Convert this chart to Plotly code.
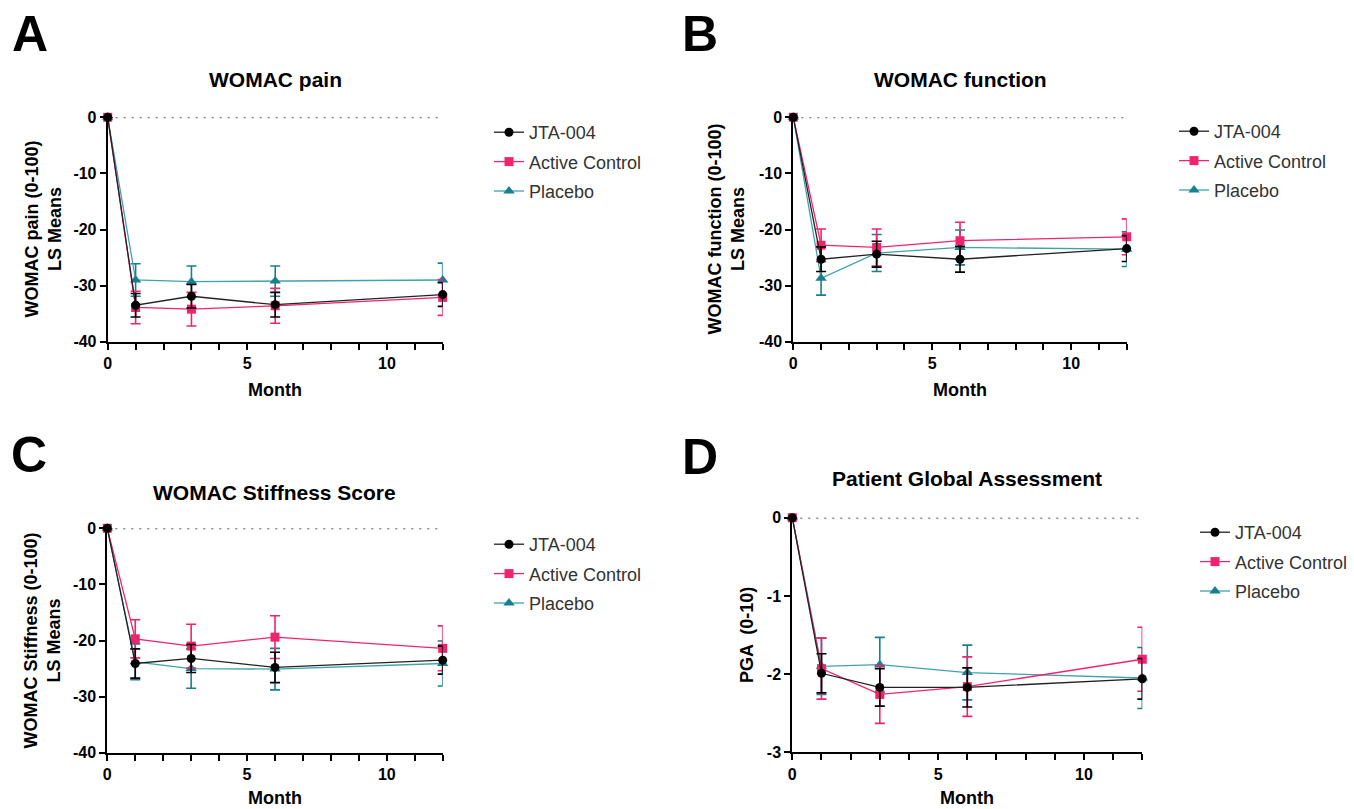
import plotly.graph_objects as go

W, H = 1354, 809
OFF = 0  # body margin removed via post_script

months = [0, 1, 3, 6, 12]
series_names = ["JTA-004", "Active Control", "Placebo"]

# Panel A: WOMAC pain
a_jta = [0, -33.5, -31.9, -33.4, -31.6]
a_jta_err = [0, 2.1, 2.1, 2.2, 2.1]
a_act = [0, -33.9, -34.2, -33.6, -32.1]
a_act_err = [0, 2.9, 3.0, 3.1, 3.2]
a_pla = [0, -29.0, -29.3, -29.2, -29.0]
a_pla_err = [0, 2.9, 2.8, 2.7, 3.0]

# Panel B: WOMAC function
b_jta = [0, -25.3, -24.4, -25.3, -23.4]
b_jta_err = [0, 2.2, 2.3, 2.3, 2.3]
b_act = [0, -22.8, -23.2, -22.0, -21.3]
b_act_err = [0, 2.9, 3.3, 3.3, 3.2]
b_pla = [0, -28.7, -24.2, -23.2, -23.5]
b_pla_err = [0, 3.0, 3.3, 3.1, 3.1]

# Panel C: WOMAC Stiffness
c_jta = [0, -24.1, -23.2, -24.8, -23.5]
c_jta_err = [0, 2.6, 2.5, 2.7, 2.5]
c_act = [0, -19.7, -21.0, -19.4, -21.4]
c_act_err = [0, 3.4, 3.9, 3.8, 4.0]
c_pla = [0, -23.8, -25.0, -25.1, -24.1]
c_pla_err = [0, 3.2, 3.5, 3.7, 4.0]

# Panel D: PGA
d_jta = [0, -1.99, -2.17, -2.17, -2.06]
d_jta_err = [0, 0.25, 0.24, 0.25, 0.26]
d_act = [0, -1.93, -2.26, -2.16, -1.81]
d_act_err = [0, 0.39, 0.37, 0.38, 0.41]
d_pla = [0, -1.90, -1.88, -1.98, -2.05]
d_pla_err = [0, 0.36, 0.35, 0.35, 0.39]

womac_ticks = [0, -10, -20, -30, -40]
pga_ticks = [0, -1, -2, -3]

FONT = "Liberation Sans"
BLACK = "#000000"
PINK = "#F0236E"
TEAL_M = "#1A7F8C"
TEAL_L = "#3FA2AD"


def px(x):
    return (x - OFF) / W


def py(y):
    return 1 - (y - OFF) / H


panels = [
    dict(key="", leg="legend", jta=a_jta, je=a_jta_err, act=a_act, ae=a_act_err, pla=a_pla, pe=a_pla_err,
         xd=(107.7, 442.7), yd=(117.3, 341.7), yr=[-40, 0], ticks=womac_ticks,
         title="WOMAC pain", tpos=(275, 80), ytitle="WOMAC pain (0-100)<br>LS Means", ytx=43,
         mpos=(275, 390), letter="A", lpos=(30, 34), legpos=(489, 114)),
    dict(key="2", leg="legend2", jta=b_jta, je=b_jta_err, act=b_act, ae=b_act_err, pla=b_pla, pe=b_pla_err,
         xd=(793.3, 1126.7), yd=(117.3, 341.7), yr=[-40, 0], ticks=womac_ticks,
         title="WOMAC function", tpos=(960, 80), ytitle="WOMAC function (0-100)<br>LS Means", ytx=726,
         mpos=(960, 390), letter="B", lpos=(700, 34), legpos=(1174, 113)),
    dict(key="3", leg="legend3", jta=c_jta, je=c_jta_err, act=c_act, ae=c_act_err, pla=c_pla, pe=c_pla_err,
         xd=(107.3, 442.7), yd=(528.3, 752.7), yr=[-40, 0], ticks=womac_ticks,
         title="WOMAC Stiffness Score", tpos=(274, 492), ytitle="WOMAC Stiffness (0-100)<br>LS Means", ytx=42,
         mpos=(275, 798), letter="C", lpos=(29, 455), legpos=(489, 526)),
    dict(key="4", leg="legend4", jta=d_jta, je=d_jta_err, act=d_act, ae=d_act_err, pla=d_pla, pe=d_pla_err,
         xd=(792.3, 1142.3), yd=(517.7, 752.3), yr=[-3, 0], ticks=pga_ticks,
         title="Patient Global Assessment", tpos=(967, 478), ytitle="PGA  (0-10)", ytx=747,
         mpos=(967, 798), letter="D", lpos=(700, 457), legpos=(1195, 514)),
]

fig = go.Figure()
annotations = []
shapes = []
layout = {}

for i, p in enumerate(panels):
    xa = "x" + p["key"]
    ya = "y" + p["key"]
    trace_defs = [
        (series_names[2], 3, p["pla"], p["pe"], TEAL_L, TEAL_M, "triangle-up"),
        (series_names[1], 2, p["act"], p["ae"], PINK, PINK, "square"),
        (series_names[0], 1, p["jta"], p["je"], "#222222", BLACK, "circle"),
    ]
    for name, rank, yv, ev, lc, mc, sym in trace_defs:
        fig.add_trace(go.Scatter(
            x=months, y=yv, name=name, mode="lines+markers",
            xaxis=xa, yaxis=ya, legend=p["leg"], legendgroup=p["leg"] + name, legendrank=rank,
            line=dict(color=lc, width=1.3),
            marker=dict(color=mc, size=9 if sym != "triangle-up" else 10, symbol=sym),
            error_y=dict(type="data", array=ev, visible=True, color=mc, thickness=1.6, width=5),
            cliponaxis=False,
        ))
    axkey_x = "xaxis" + p["key"]
    axkey_y = "yaxis" + p["key"]
    common = dict(showline=True, linewidth=2, linecolor="black", ticks="outside", ticklen=6,
                  tickwidth=2, tickcolor="black", showgrid=False, zeroline=False,
                  tickfont=dict(family=FONT, size=16, color="black", weight="bold"))
    layout[axkey_x] = dict(domain=[px(p["xd"][0]), px(p["xd"][1])], range=[0, 12], anchor=ya,
                           tickmode="linear", tick0=0, dtick=5,
                           minor=dict(dtick=1, ticks="outside", ticklen=6, tickwidth=2,
                                      tickcolor="black", showgrid=False),
                           **common)
    layout[axkey_y] = dict(domain=[py(p["yd"][1]), py(p["yd"][0])], range=p["yr"], anchor=xa,
                           tickmode="array", tickvals=p["ticks"], ticktext=[str(t) for t in p["ticks"]],
                           **common)
    shapes.append(dict(type="line", xref=xa, yref=ya, x0=0, x1=12, y0=0, y1=0, layer="below",
                       line=dict(color="#555555", width=2, dash="2px,6px")))
    annotations.append(dict(text=p["title"], x=px(p["tpos"][0]), y=py(p["tpos"][1]), xref="paper",
                            yref="paper", showarrow=False, xanchor="center", yanchor="middle",
                            font=dict(family=FONT, size=21, color="black", weight="bold")))
    annotations.append(dict(text="Month", x=px(p["mpos"][0]), y=py(p["mpos"][1]), xref="paper",
                            yref="paper", showarrow=False, xanchor="center", yanchor="middle",
                            font=dict(family=FONT, size=18, color="black", weight="bold")))
    ymid = (p["yd"][0] + p["yd"][1]) / 2
    annotations.append(dict(text=p["ytitle"], x=px(p["ytx"]), y=py(ymid), xref="paper", yref="paper",
                            showarrow=False, xanchor="center", yanchor="middle", textangle=-90,
                            font=dict(family=FONT, size=18, color="black", weight="bold")))
    annotations.append(dict(text=p["letter"], x=px(p["lpos"][0]), y=py(p["lpos"][1]), xref="paper",
                            yref="paper", showarrow=False, xanchor="center", yanchor="middle",
                            font=dict(family=FONT, size=50, color="black", weight="bold")))
    layout[p["leg"]] = dict(x=px(p["legpos"][0]), y=py(p["legpos"][1]), xanchor="left", yanchor="top",
                            traceorder="grouped", tracegroupgap=3, bgcolor="rgba(0,0,0,0)",
                            font=dict(family=FONT, size=18, color="#333333"))

fig.update_layout(
    width=W, height=H, margin=dict(l=0, r=0, t=0, b=0, autoexpand=False),
    paper_bgcolor="white", plot_bgcolor="white",
    showlegend=True, annotations=annotations, shapes=shapes,
    **layout,
)

fig.write_html("out.html", config={"displayModeBar": False},
               post_script="document.body.style.margin='0px';")
